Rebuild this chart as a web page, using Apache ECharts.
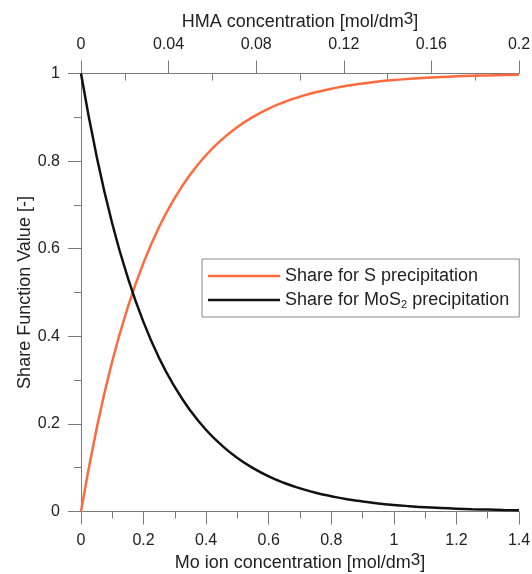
<!DOCTYPE html>
<html><head><meta charset="utf-8">
<script src="https://cdn.jsdelivr.net/npm/echarts@6/dist/echarts.min.js"></script>
<style>html,body{margin:0;padding:0;background:#fff}#c{width:532px;height:574px}</style>
</head><body><div id="c"></div>
<script>
// Mo ion concentration [mol/dm3] sample positions
var moConc = [0, 0.05, 0.1, 0.15, 0.2, 0.25, 0.3, 0.35, 0.4, 0.45, 0.5, 0.55, 0.6, 0.65, 0.7, 0.75, 0.8, 0.85, 0.9, 0.95, 1.0, 1.05, 1.1, 1.15, 1.2, 1.25, 1.3, 1.35, 1.4];
// Share for S precipitation
var sShare = [0, 0.189, 0.343, 0.467, 0.568, 0.650, 0.716, 0.770, 0.814, 0.849, 0.878, 0.901, 0.920, 0.935, 0.947, 0.957, 0.965, 0.972, 0.977, 0.9815, 0.985, 0.9878, 0.9902, 0.992, 0.9935, 0.9948, 0.9957, 0.9965, 0.9972];
// Share for MoS2 precipitation
var mosShare = [1, 0.811, 0.657, 0.533, 0.432, 0.350, 0.284, 0.230, 0.186, 0.151, 0.122, 0.099, 0.080, 0.065, 0.053, 0.043, 0.035, 0.028, 0.023, 0.0185, 0.015, 0.0122, 0.0098, 0.008, 0.0065, 0.0052, 0.0043, 0.0035, 0.0028];
var seriesNames = ['Share for S precipitation', 'Share for MoS2 precipitation'];

function pairs(xs, ys){ return xs.map(function(x,i){ return [x, ys[i]]; }); }

var gray = '#7a7a7a';
var txt = '#222';
var font = 'Liberation Sans, Arial, sans-serif';
function nameRich(){ return {
  a: {fontSize: 18, fontFamily: font, color: txt, lineHeight: 22, verticalAlign: 'middle'},
  sup: {fontSize: 17, fontFamily: font, color: txt, lineHeight: 15, verticalAlign: 'top'}
}; }
function ls(){ return {color: gray, width: 1}; }

var chart = echarts.init(document.getElementById('c'), null, {renderer: 'canvas'});
chart.setOption({
  animation: false,
  grid: {left: 81, right: 13, top: 73.5, bottom: 62.5, outerBoundsMode: 'none'},
  legend: {
    orient: 'vertical', left: 202, top: 259,
    backgroundColor: '#fff',
    borderColor: '#8a8a8a', borderWidth: 1,
    padding: [8, 10, 7, 6],
    icon: 'rect', itemWidth: 72, itemHeight: 2.5, itemGap: 6,
    data: seriesNames,
    formatter: function(n){ return n === seriesNames[1] ? '{t|Share for MoS}{sub|2}{t| precipitation}' : '{t|' + n + '}'; },
    textStyle: {
      fontSize: 18, fontFamily: font, color: txt,
      rich: {
        t: {fontSize: 18, fontFamily: font, color: txt, lineHeight: 20, verticalAlign: 'middle'},
        sub: {fontSize: 11, fontFamily: font, color: txt, lineHeight: 11, verticalAlign: 'bottom'}
      }
    }
  },
  xAxis: [
    {
      type: 'value', position: 'bottom', min: 0, max: 1.4, interval: 0.2,
      name: '{a|Mo ion concentration [mol/dm}{sup|3}{a|]}', nameLocation: 'middle', nameGap: 40.5, nameMoveOverlap: false,
      nameTextStyle: {rich: nameRich()},
      axisLine: {show: true, onZero: false, lineStyle: ls()},
      axisTick: {show: true, length: 13, lineStyle: ls()},
      minorTick: {show: true, splitNumber: 2, length: 7, lineStyle: ls()},
      axisLabel: {fontSize: 16, fontFamily: font, color: txt, margin: 21},
      splitLine: {show: false}
    },
    {
      type: 'value', position: 'top', min: 0, max: 0.2, interval: 0.04,
      name: '{a|HMA concentration [mol/dm}{sup|3}{a|]}', nameLocation: 'middle', nameGap: 40.5, nameMoveOverlap: false,
      nameTextStyle: {rich: nameRich()},
      axisLine: {show: true, onZero: false, lineStyle: ls()},
      axisTick: {show: true, length: 13, lineStyle: ls()},
      axisLabel: {fontSize: 16, fontFamily: font, color: txt, margin: 21},
      splitLine: {show: false}
    },
    {
      type: 'value', position: 'top', min: 0, max: 0.2, interval: 0.04,
      axisLine: {show: false, onZero: false},
      axisTick: {show: false, inside: true},
      minorTick: {show: true, splitNumber: 2, length: 7, lineStyle: ls()},
      axisLabel: {show: false},
      splitLine: {show: false}
    }
  ],
  yAxis: {
    type: 'value', min: 0, max: 1, interval: 0.2,
    name: 'Share Function Value [-]', nameLocation: 'middle', nameGap: 47, nameMoveOverlap: false,
    nameTextStyle: {fontSize: 18, fontFamily: font, color: txt},
    axisLine: {show: true, onZero: false, lineStyle: ls()},
    axisTick: {show: true, length: 13, lineStyle: ls()},
    minorTick: {show: true, splitNumber: 2, length: 7, lineStyle: ls()},
    axisLabel: {fontSize: 16, fontFamily: font, color: txt, margin: 21},
    splitLine: {show: false}
  },
  series: [
    {
      name: seriesNames[0], type: 'line', xAxisIndex: 0, smooth: true,
      symbol: 'none', data: pairs(moConc, sShare),
      lineStyle: {color: '#ff6a3d', width: 2.5}, itemStyle: {color: '#ff6a3d'}, z: 3
    },
    {
      name: seriesNames[1], type: 'line', xAxisIndex: 0, smooth: true,
      symbol: 'none', data: pairs(moConc, mosShare),
      lineStyle: {color: '#111111', width: 2.5}, itemStyle: {color: '#111111'}, z: 4
    }
  ]
});
</script></body></html>
